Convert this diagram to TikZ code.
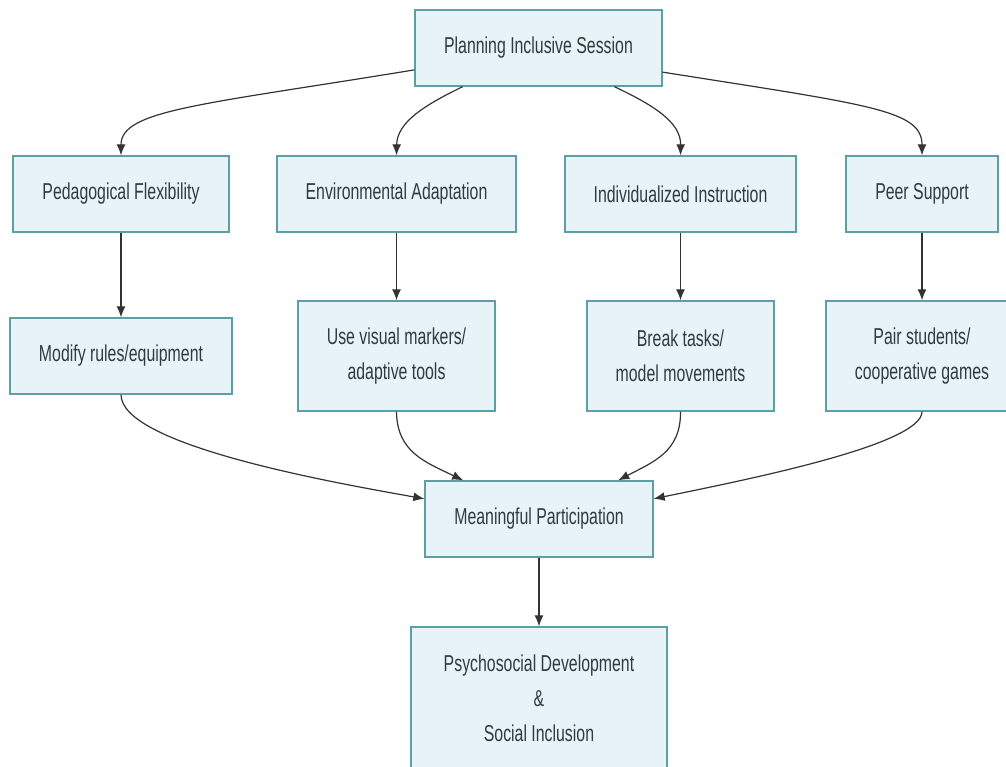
\documentclass[tikz,border=0pt]{standalone}
\usepackage{fontspec}
\setmainfont{Liberation Sans}[FakeStretch=0.69]
\usetikzlibrary{arrows.meta}
\definecolor{boxfill}{HTML}{E7F3F6}
\definecolor{boxline}{HTML}{5E9EA5}
\definecolor{txt}{HTML}{2F3B3F}
\definecolor{edge}{HTML}{333333}
\begin{document}
\begin{tikzpicture}[x=1pt,y=-1pt,
  box/.style={rectangle, draw=boxline, fill=boxfill, line width=1.3pt, text=txt, align=center, inner sep=0pt,
    font=\fontsize{23}{35}\selectfont},
  every path/.style={line width=1.2pt},
  link/.style={draw=edge, -{Latex[length=11pt,width=9pt]}}]
\useasboundingbox (0,0) rectangle (1006,767);

\node[box, minimum width=247, minimum height=76] (plan) at (538.5,48) {Planning Inclusive Session};

\node[box, minimum width=216, minimum height=76] (ped) at (121,194) {Pedagogical Flexibility};
\node[box, minimum width=239, minimum height=76] (env) at (396.5,194) {Environmental Adaptation};
\node[box, minimum width=231, minimum height=76] (ind) at (680.5,194) {Individualized Instruction};
\node[box, minimum width=152, minimum height=76] (peer) at (922,194) {Peer Support};

\node[box, minimum width=222, minimum height=76] (mod) at (121,356) {Modify rules/equipment};
\node[box, minimum width=197, minimum height=110] (vis) at (396.5,356) {Use visual markers/\\adaptive tools};
\node[box, minimum width=187, minimum height=110] (brk) at (680.5,356) {Break tasks/\\model movements};
\node[box, minimum width=192, minimum height=110] (pair) at (922,356) {Pair students/\\cooperative games};

\node[box, minimum width=228, minimum height=76] (mp) at (539,519) {Meaningful Participation};
\node[box, minimum width=256, minimum height=142] (psy) at (539,698) {Psychosocial Development\\\&\\Social Inclusion};

\draw[link] (plan.190) .. controls (200,105) and (121,110) .. (ped.north);
\draw[link] (plan.207) .. controls (425,105) and (397,122) .. (env.north);
\draw[link] (plan.333) .. controls (653,105) and (681,122) .. (ind.north);
\draw[link] (plan.349) .. controls (870,105) and (922,110) .. (peer.north);

\draw[link] (ped) -- (mod);
\draw[link] (env) -- (vis);
\draw[link] (ind) -- (brk);
\draw[link] (peer) -- (pair);

\draw[link] (mod.south) .. controls (121,445) and (330,482) .. (mp.170.5);
\draw[link] (vis.south) .. controls (397,452) and (425,462) .. (mp.153.7);
\draw[link] (brk.south) .. controls (681,452) and (653,462) .. (mp.26.8);
\draw[link] (pair.south) .. controls (922,445) and (745,480) .. (mp.10.9);

\draw[link] (mp) -- (psy);
\end{tikzpicture}
\end{document}
